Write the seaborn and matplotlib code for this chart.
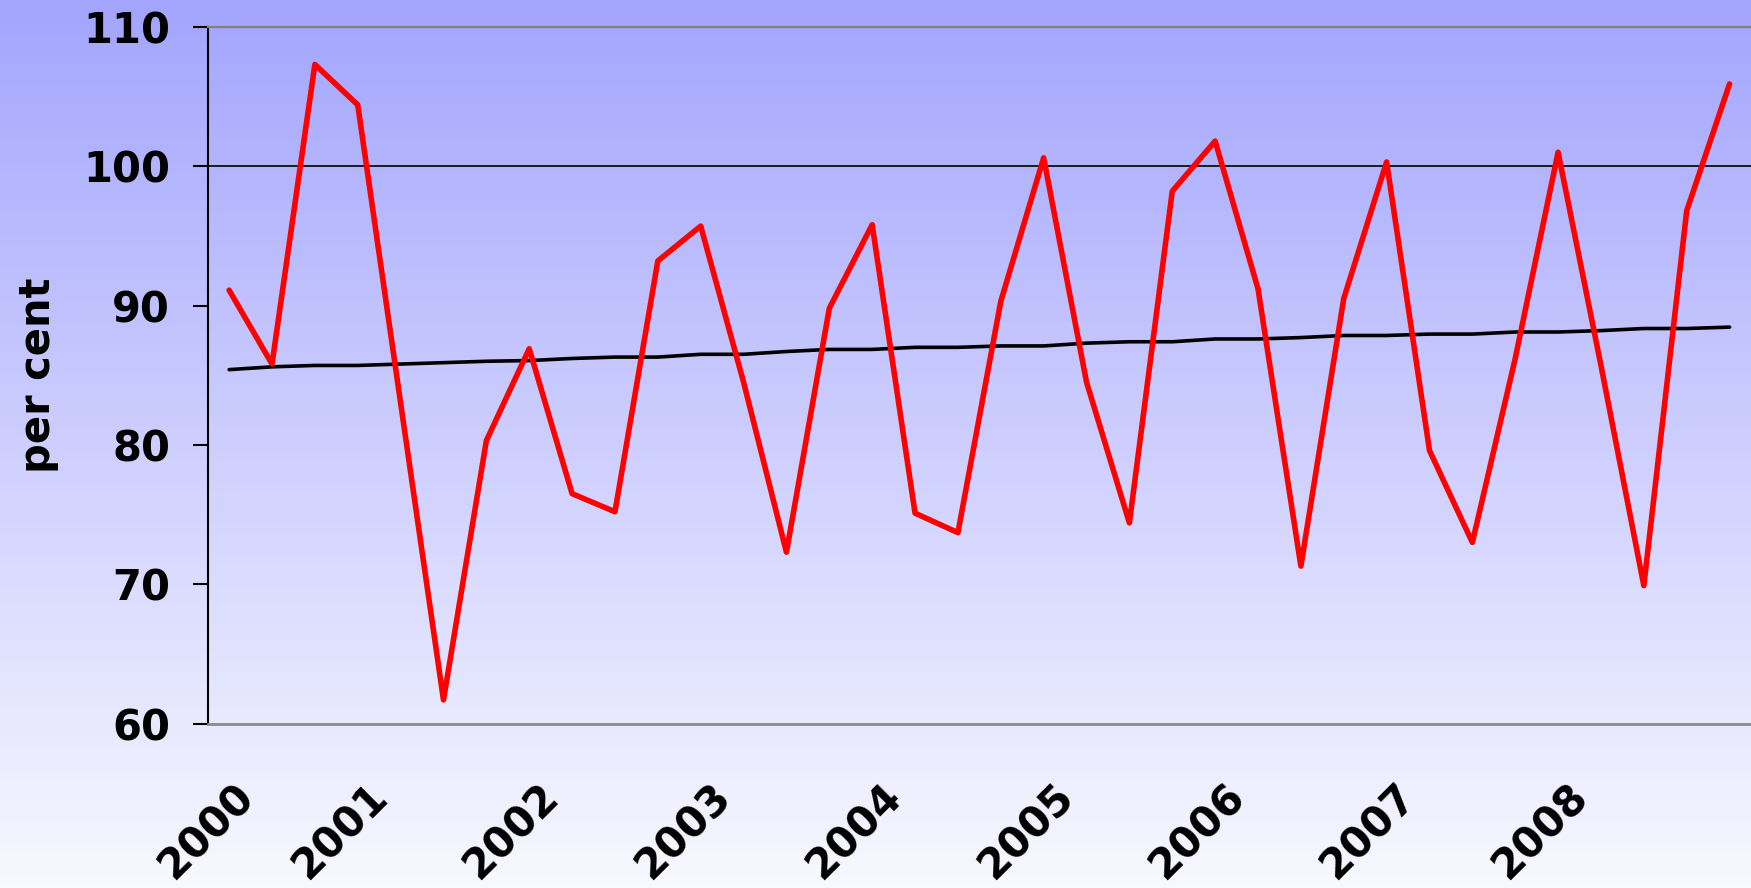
import numpy as np
import pandas as pd
import matplotlib
matplotlib.use("Agg")
import matplotlib.pyplot as plt
import matplotlib.transforms as mtransforms
from matplotlib.colors import LinearSegmentedColormap
import seaborn as sns

# ---- data ----
years = [2000, 2001, 2002, 2003, 2004, 2005, 2006, 2007, 2008]
quarters = [f"{y}Q{q}" for y in years for q in range(1, 5)]
actual = [91.1, 85.8, 107.3, 104.4, 83.0, 61.7, 80.3, 86.9, 76.5, 75.2,
          93.2, 95.7, 84.5, 72.3, 89.8, 95.8, 75.1, 73.7, 90.3, 100.6,
          84.5, 74.4, 98.2, 101.8, 91.2, 71.3, 90.5, 100.3, 79.6, 73.0,
          86.2, 101.0, 85.7, 69.9, 96.8, 105.9]
trend = [85.4, 85.6, 85.7, 85.7, 85.8, 85.9, 86.0, 86.05, 86.2, 86.3, 86.3,
         86.5, 86.5, 86.7, 86.85, 86.85, 87.0, 87.0, 87.1, 87.1, 87.3, 87.4,
         87.4, 87.6, 87.6, 87.7, 87.85, 87.85,
         87.95, 87.95, 88.1, 88.1, 88.2, 88.35, 88.35, 88.45]
year_labels = [str(y) for y in years]
y_ticks = [60, 70, 80, 90, 100, 110]

df = pd.DataFrame({"pos": np.arange(len(quarters)), "quarter": quarters,
                   "actual": actual, "trend": trend})

sns.set_style("white")
plt.rcParams["font.family"] = ["DejaVu Sans"]
plt.rcParams["font.weight"] = "bold"
for k in ["text.color", "axes.labelcolor", "xtick.color", "ytick.color"]:
    plt.rcParams[k] = "black"

W, H = 1751, 888
fig = plt.figure(figsize=(W / 100, H / 100), dpi=100)

# background gradient
bg = fig.add_axes([0, 0, 1, 1], zorder=0)
cmap = LinearSegmentedColormap.from_list("bg", ["#f8f8ff", "#a3a5fd"])
grad = np.linspace(0, 1, 256).reshape(-1, 1)
bg.imshow(grad, aspect="auto", cmap=cmap, origin="lower", extent=[0, 1, 0, 1])
bg.axis("off")

ax = fig.add_axes([207.7 / W, 1 - 723.6 / H, 1 - 207.7 / W, (723.6 - 26.8) / H], zorder=1)
ax.set_facecolor("none")

ax.axhline(100, color="black", lw=1.2, zorder=1)
sns.lineplot(data=df, x="pos", y="trend", color="black", lw=2.6, ax=ax, zorder=2)
sns.lineplot(data=df, x="pos", y="actual", color="#ff0000", lw=4.0, ax=ax, zorder=3)

ax.set_xlim(-0.5, len(quarters) - 0.5)
ax.set_ylim(60, 110)
ax.set_yticks(y_ticks)
ax.set_yticklabels([str(v) for v in y_ticks], fontsize=30, fontweight="bold")
ax.tick_params(axis="y", direction="out", length=11, width=1.5, pad=16, colors="black", left=True)

tick_pos = list(range(0, len(quarters), 4))
ax.set_xticks(tick_pos)
ax.set_xticklabels(year_labels, fontsize=30, fontweight="bold", rotation=45,
                   ha="right", va="top", rotation_mode="anchor")
ax.tick_params(axis="x", length=0, pad=37)
for i, lab in enumerate(ax.get_xticklabels()):
    dx = 4 / 100 if i == 0 else -34 / 100
    lab.set_transform(lab.get_transform() + mtransforms.ScaledTranslation(dx, 0, fig.dpi_scale_trans))

ax.set_xlabel("")
ax.set_ylabel("per cent", fontsize=30, fontweight="bold", color="black")
ax.yaxis.set_label_coords(-(207.7 - 59) / (W - 207.7), (723.6 - 375) / (723.6 - 26.8))

ax.grid(False)
ax.spines["left"].set_color("black")
ax.spines["left"].set_linewidth(1.5)
ax.spines["top"].set_color("#808080")
ax.spines["top"].set_linewidth(1.6)
ax.spines["bottom"].set_color("#8a8a8a")
ax.spines["bottom"].set_linewidth(2.0)
ax.spines["right"].set_visible(False)
ax.spines["top"].set_visible(True)

fig.savefig("out.png", dpi=100)
